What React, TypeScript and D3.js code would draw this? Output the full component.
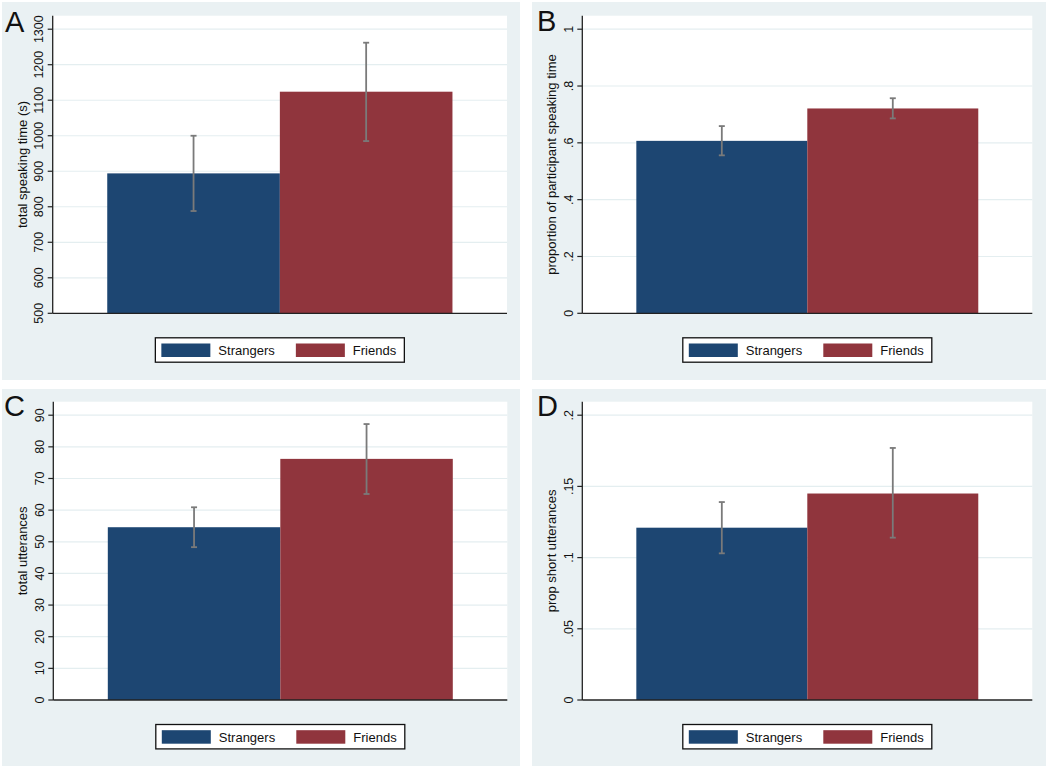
import React from 'react';
import * as d3 from 'd3';

// Groups and summary values (mean, lower CI, upper CI)
const groups = ['Strangers', 'Friends'];
const groupColors = ['#1d4672', '#90353d'];

const speakingTime = [894, 1124];
const speakingTimeLo = [788, 985];
const speakingTimeHi = [1000, 1262];
const speakingTimeTicks = [500, 600, 700, 800, 900, 1000, 1100, 1200, 1300];
const speakingTimeTickLabels = ['500', '600', '700', '800', '900', '1000', '1100', '1200', '1300'];

const propSpeaking = [0.607, 0.721];
const propSpeakingLo = [0.556, 0.686];
const propSpeakingHi = [0.659, 0.757];
const propSpeakingTicks = [0, 0.2, 0.4, 0.6, 0.8, 1];
const propSpeakingTickLabels = ['0', '.2', '.4', '.6', '.8', '1'];

const utterances = [54.6, 76.2];
const utterancesLo = [48.3, 65.1];
const utterancesHi = [60.9, 87.2];
const utterancesTicks = [0, 10, 20, 30, 40, 50, 60, 70, 80, 90];
const utterancesTickLabels = ['0', '10', '20', '30', '40', '50', '60', '70', '80', '90'];

const propShort = [0.121, 0.145];
const propShortLo = [0.103, 0.114];
const propShortHi = [0.139, 0.177];
const propShortTicks = [0, 0.05, 0.1, 0.15, 0.2];
const propShortTickLabels = ['0', '.05', '.1', '.15', '.2'];

const FONT = '"Liberation Sans", Arial, Helvetica, sans-serif';
const PANEL_BG = '#eaf1f3';
const GRID = '#e4eef0';
const ERR = '#7a7a7a';

type PanelProps = {
  letter: string;
  bg: { x: number; y: number; w: number; h: number };
  plot: { x0: number; x1: number; y0: number; y1: number };
  letterPos: [number, number];
  title: string;
  values: number[];
  lo: number[];
  hi: number[];
  ticks: number[];
  tickLabels: string[];
};

const Panel: React.FC<PanelProps> = ({ letter, bg, plot, letterPos, title, values, lo, hi, ticks, tickLabels }) => {
  const topPad = 13.5; // Stata leaves a margin above the highest tick
  const y = d3.scaleLinear()
    .domain([ticks[0], ticks[ticks.length - 1]])
    .range([plot.y1, plot.y0 + topPad]);
  const x = d3.scaleBand<string>()
    .domain(groups)
    .range([plot.x0, plot.x1])
    .paddingInner(0)
    .paddingOuter(0.316);

  const legendW = 249;
  const legendH = 24.4;
  const legendX = (plot.x0 + plot.x1) / 2 - legendW / 2;
  const legendY = plot.y1 + 24.5;
  const swatchX = [legendX + 6, legendX + 140.5];
  const titleX = plot.x0 - 26;
  const midY = (plot.y0 + plot.y1) / 2;

  return (
    <g>
      <rect x={bg.x} y={bg.y} width={bg.w} height={bg.h} fill={PANEL_BG} />
      <rect x={plot.x0} y={plot.y0} width={plot.x1 - plot.x0} height={plot.y1 - plot.y0} fill="#fff" />

      {/* grid lines */}
      {ticks.slice(1).map(t => (
        <line key={`g${t}`} x1={plot.x0} x2={plot.x1} y1={y(t)} y2={y(t)} stroke={GRID} strokeWidth={1.2} />
      ))}

      {/* bars */}
      {groups.map((g, i) => (
        <rect
          key={g}
          x={x(g)!}
          y={y(values[i])}
          width={x.bandwidth()}
          height={plot.y1 - y(values[i])}
          fill={groupColors[i]}
        />
      ))}

      {/* error bars */}
      {groups.map((g, i) => {
        const cx = x(g)! + x.bandwidth() / 2;
        return (
          <g key={`e${g}`} stroke={ERR} strokeWidth={1.8}>
            <line x1={cx} x2={cx} y1={y(lo[i])} y2={y(hi[i])} />
            <line x1={cx - 3} x2={cx + 3} y1={y(lo[i])} y2={y(lo[i])} />
            <line x1={cx - 3} x2={cx + 3} y1={y(hi[i])} y2={y(hi[i])} />
          </g>
        );
      })}

      {/* axes */}
      <line x1={plot.x0} x2={plot.x0} y1={plot.y0} y2={plot.y1} stroke="#222" strokeWidth={1.3} />
      <line x1={plot.x0} x2={plot.x1} y1={plot.y1} y2={plot.y1} stroke="#222" strokeWidth={1.3} />
      {ticks.map((t, i) => (
        <g key={`t${t}`}>
          <line x1={plot.x0 - 5} x2={plot.x0} y1={y(t)} y2={y(t)} stroke="#222" strokeWidth={1.2} />
          <text
            transform={`translate(${plot.x0 - 9.5},${y(t)}) rotate(-90)`}
            textAnchor="middle"
            fontFamily={FONT}
            fontSize={12.5}
            fill="#111"
          >
            {tickLabels[i]}
          </text>
        </g>
      ))}
      <text
        transform={`translate(${titleX},${midY}) rotate(-90)`}
        textAnchor="middle"
        fontFamily={FONT}
        fontSize={13}
        fill="#111"
      >
        {title}
      </text>

      {/* panel letter */}
      <text x={letterPos[0]} y={letterPos[1]} fontFamily={FONT} fontSize={29} fill="#111">
        {letter}
      </text>

      {/* legend */}
      <rect x={legendX} y={legendY} width={legendW} height={legendH} fill="#fff" stroke="#111" strokeWidth={1.3} />
      {groups.map((g, i) => (
        <g key={`l${g}`}>
          <rect x={swatchX[i]} y={legendY + 5.7} width={49} height={13.5} fill={groupColors[i]} />
          <text x={swatchX[i] + 57} y={legendY + 17} fontFamily={FONT} fontSize={13} fill="#111">
            {g}
          </text>
        </g>
      ))}
    </g>
  );
};

const App: React.FC = () => {
  return (
    <svg
      width={1052}
      height={768}
      style={{ position: 'absolute', left: 0, top: 0, display: 'block', background: '#fff' }}
    >
      <Panel
        letter="A"
        bg={{ x: 2, y: 2, w: 518, h: 378 }}
        plot={{ x0: 52.7, x1: 507, y0: 15.7, y1: 313.3 }}
        letterPos={[5, 32]}
        title="total speaking time (s)"
        values={speakingTime}
        lo={speakingTimeLo}
        hi={speakingTimeHi}
        ticks={speakingTimeTicks}
        tickLabels={speakingTimeTickLabels}
      />
      <Panel
        letter="B"
        bg={{ x: 532, y: 2, w: 514, h: 378 }}
        plot={{ x0: 582.3, x1: 1032.3, y0: 15.7, y1: 313.3 }}
        letterPos={[537, 31]}
        title="proportion of participant speaking time"
        values={propSpeaking}
        lo={propSpeakingLo}
        hi={propSpeakingHi}
        ticks={propSpeakingTicks}
        tickLabels={propSpeakingTickLabels}
      />
      <Panel
        letter="C"
        bg={{ x: 2, y: 389, w: 518, h: 377 }}
        plot={{ x0: 53.3, x1: 507.3, y0: 401.7, y1: 700 }}
        letterPos={[4, 416]}
        title="total utterances"
        values={utterances}
        lo={utterancesLo}
        hi={utterancesHi}
        ticks={utterancesTicks}
        tickLabels={utterancesTickLabels}
      />
      <Panel
        letter="D"
        bg={{ x: 532, y: 389, w: 514, h: 377 }}
        plot={{ x0: 582.3, x1: 1032.3, y0: 401.7, y1: 700 }}
        letterPos={[537, 416]}
        title="prop short utterances"
        values={propShort}
        lo={propShortLo}
        hi={propShortHi}
        ticks={propShortTicks}
        tickLabels={propShortTickLabels}
      />
    </svg>
  );
};

export default App;
